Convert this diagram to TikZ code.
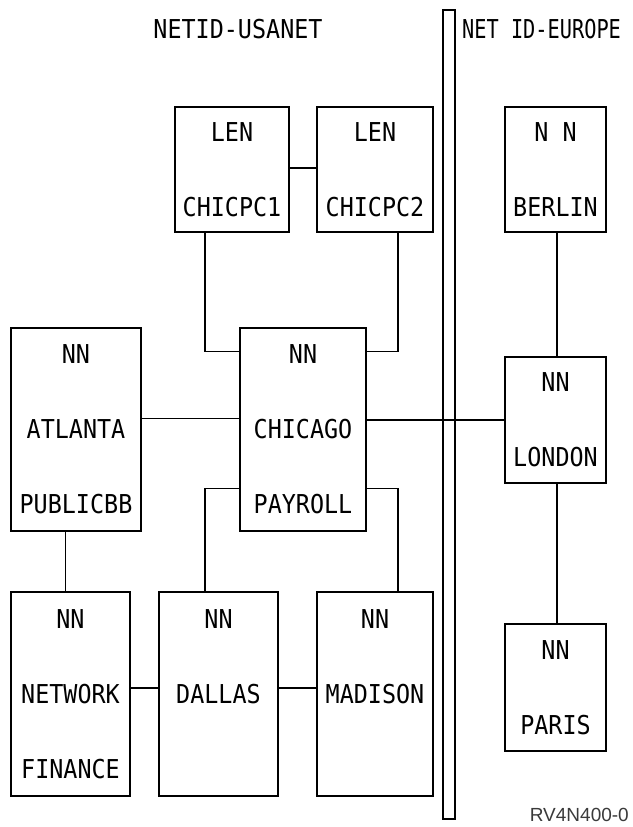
\documentclass[tikz,border=0pt]{standalone}
\usepackage{fontspec}
\usepackage{tikz}
\usetikzlibrary{positioning, calc}
\newfontfamily\termfont[FakeStretch=0.9]{DejaVu Sans Mono}
\newfontfamily\narrowfont[FakeStretch=0.78]{DejaVu Sans Mono}
\newfontfamily\tagfont{Liberation Sans}
\definecolor{IBM_Gray}{HTML}{3A3A3A}

\begin{document}
\begin{tikzpicture}[
    x=1pt, y=-1pt,
    nodebox/.style={draw=black, line width=1.2pt, inner sep=0pt, align=center, anchor=center, font=\termfont\fontsize{26}{75}\selectfont},
    netlabel/.style={inner sep=0pt, font=\termfont\fontsize{26}{30}\selectfont},
    link/.style={draw=black, line width=1.2pt}
]
\useasboundingbox (0,0) rectangle (632,827);
% network boundary
\node[draw=black, line width=1.2pt, fill=white, minimum width=12pt, minimum height=809pt, inner sep=0pt] (divider) at (449, 414.5) {};
\node[netlabel] (usanet) at (238, 29) {NETID-USANET};
\node[netlabel, font=\narrowfont\fontsize{26}{30}\selectfont, anchor=west] (europe) at (462, 29) {NET ID-EUROPE};
\node[inner sep=0pt, text=IBM_Gray, font=\tagfont\fontsize{19}{23}\selectfont, anchor=east] (figid) at (629, 815) {RV4N400-0};

% USA side
\node[nodebox, minimum width=114pt, minimum height=125pt] (chicpc1) at (232, 169.5) {LEN\\CHICPC1};
\node[nodebox, minimum width=116pt, minimum height=125pt] (chicpc2) at (375, 169.5) {LEN\\CHICPC2};
\node[nodebox, minimum width=130pt, minimum height=203pt] (atlanta) at (76, 429.5) {NN\\ATLANTA\\PUBLICBB};
\node[nodebox, minimum width=126pt, minimum height=203pt] (chicago) at (303, 429.5) {NN\\CHICAGO\\PAYROLL};
\node[nodebox, minimum width=119pt, minimum height=204pt] (network) at (70.5, 694) {NN\\NETWORK\\FINANCE};
\node[nodebox, minimum width=119pt, minimum height=204pt] (dallas) at (218.5, 694) {NN\\DALLAS\\\mbox{}};
\node[nodebox, minimum width=116pt, minimum height=204pt] (madison) at (375, 694) {NN\\MADISON\\\mbox{}};

% Europe side
\node[nodebox, minimum width=101pt, minimum height=125pt] (berlin) at (555.5, 169.5) {N N\\BERLIN};
\node[nodebox, minimum width=101pt, minimum height=126pt] (london) at (555.5, 420) {NN\\LONDON};
\node[nodebox, minimum width=101pt, minimum height=127pt] (paris) at (555.5, 687.5) {NN\\PARIS};

% links
\draw[link] ([yshift=1.5pt]chicpc1.east) -- ([yshift=1.5pt]chicpc2.west);
\draw[link] ([xshift=-27pt]chicpc1.south) |- ([yshift=-24pt]chicago.north west);
\draw[link] ([xshift=23pt]chicpc2.south) |- ([yshift=-24pt]chicago.north east);
\draw[link] ([yshift=11pt]atlanta.east) -- ([yshift=11pt]chicago.west);
\draw[link] (chicago.east |- london.west) -- (london.west);
\draw[link] ([xshift=-5pt]network.north) -- ([xshift=-5pt]network.north |- atlanta.south);
\draw[link] ([yshift=43pt]chicago.south west) -| ([xshift=-13.5pt]dallas.north);
\draw[link] ([yshift=43pt]chicago.south east) -| ([xshift=23pt]madison.north);
\draw[link] ([yshift=6pt]network.east) -- ([yshift=6pt]dallas.west);
\draw[link] ([yshift=6pt]dallas.east) -- ([yshift=6pt]madison.west);
\draw[link] ([xshift=1.5pt]berlin.south) -- ([xshift=1.5pt]london.north);
\draw[link] ([xshift=1.5pt]london.south) -- ([xshift=1.5pt]paris.north);
\end{tikzpicture}
\end{document}
